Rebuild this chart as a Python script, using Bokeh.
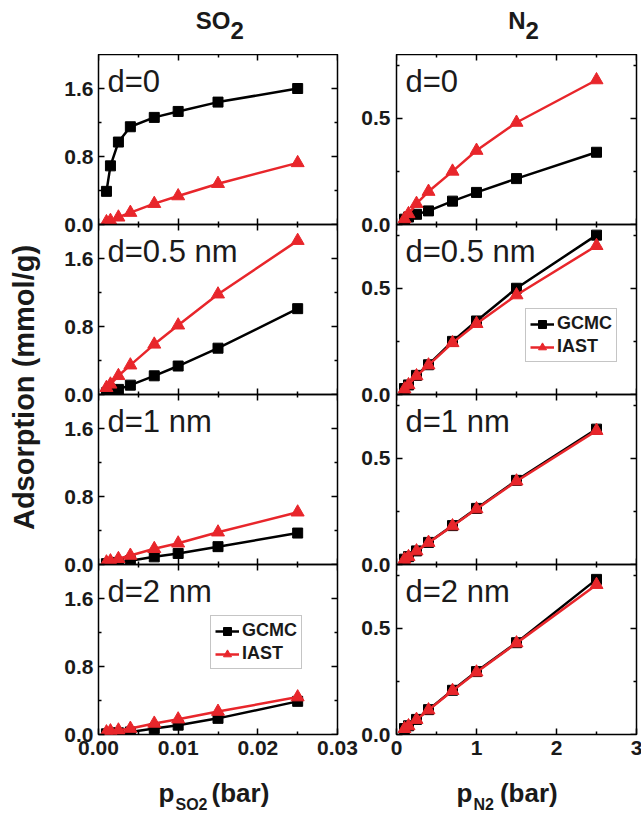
import math
from bokeh.plotting import figure
from bokeh.models import Range1d, LinearAxis, FixedTicker, Label, Legend, LegendItem
from bokeh.layouts import row, column
from bokeh.embed import file_html
from bokeh.resources import INLINE

# ---------------- data ----------------
p_so2 = [0.001, 0.0015, 0.0025, 0.004, 0.007, 0.01, 0.015, 0.025]
p_n2 = [0.1, 0.15, 0.25, 0.4, 0.7, 1.0, 1.5, 2.5]

panel_labels = ["d=0", "d=0.5 nm", "d=1 nm", "d=2 nm"]

so2_gcmc = [
    [0.39, 0.69, 0.97, 1.15, 1.26, 1.33, 1.44, 1.60],
    [0.02, 0.04, 0.06, 0.11, 0.22, 0.335, 0.545, 1.01],
    [0.01, 0.015, 0.025, 0.045, 0.09, 0.13, 0.21, 0.37],
    [0.008, 0.016, 0.02, 0.03, 0.07, 0.11, 0.19, 0.39],
]
so2_iast = [
    [0.03, 0.045, 0.085, 0.14, 0.245, 0.335, 0.48, 0.725],
    [0.08, 0.12, 0.22, 0.345, 0.59, 0.815, 1.18, 1.81],
    [0.027, 0.04, 0.067, 0.106, 0.185, 0.25, 0.38, 0.615],
    [0.028, 0.04, 0.05, 0.07, 0.13, 0.18, 0.27, 0.44],
]
n2_gcmc = [
    [0.025, 0.035, 0.048, 0.064, 0.11, 0.151, 0.216, 0.34],
    [0.028, 0.045, 0.09, 0.14, 0.25, 0.346, 0.50, 0.75],
    [0.025, 0.037, 0.064, 0.104, 0.183, 0.264, 0.396, 0.637],
    [0.028, 0.041, 0.071, 0.117, 0.208, 0.296, 0.432, 0.73],
]
n2_iast = [
    [0.026, 0.05, 0.098, 0.155, 0.25, 0.348, 0.48, 0.68],
    [0.025, 0.045, 0.087, 0.138, 0.243, 0.333, 0.468, 0.70],
    [0.024, 0.036, 0.063, 0.103, 0.181, 0.261, 0.392, 0.630],
    [0.027, 0.04, 0.07, 0.115, 0.206, 0.293, 0.43, 0.705],
]

so2_xticks = [0.0, 0.01, 0.02, 0.03]
so2_xtick_labels = ["0.00", "0.01", "0.02", "0.03"]
so2_xminor = [0.005, 0.015, 0.025]
so2_yticks = [0.0, 0.8, 1.6]
so2_ytick_labels = ["0.0", "0.8", "1.6"]
so2_yminor = [0.4, 1.2]

n2_xticks = [0.0, 1.0, 2.0, 3.0]
n2_xtick_labels = ["0", "1", "2", "3"]
n2_xminor = [0.5, 1.5, 2.5]
n2_yticks = [0.0, 0.5]
n2_ytick_labels = ["0.0", "0.5"]
n2_yminor = [0.25, 0.75]

series_names = ["GCMC", "IAST"]
y_title = "Adsorption (mmol/g)"

# ---------------- style ----------------
FONT = "Liberation Sans"
TXT = "#1a1a1a"
RED = "#e8262b"
BLACK = "#000000"
FH = 170          # frame height of each panel
TOP_H = 54        # title strip height
TICK_B = 32       # room for bottom tick labels
BOT_H = 46        # x-title strip height
YLAB_W = 58
OV = 12           # overlap so tick labels on panel boundaries are not cut

# Arial/Liberation Sans Bold advance widths (per 1000 em)
BW = {"S": 667, "O": 778, "N": 722, "2": 556, "p": 611}


def bw(s, size):
    return sum(BW[ch] for ch in s) * size / 1000.0


cols = [
    dict(px=p_so2, g=so2_gcmc, i=so2_iast, xr=(0, 0.03), yr=(0, 2.0),
         xt=so2_xticks, xtl=so2_xtick_labels, xm=so2_xminor,
         yt=so2_yticks, ytl=so2_ytick_labels, ym=so2_yminor,
         fw=239, mbl=40, mbr=21, title=("SO", "2"), tx=132,
         xlab=("p", "SO2", "(bar)"), xlx=76, gap=4),
    dict(px=p_n2, g=n2_gcmc, i=n2_iast, xr=(0, 3.0), yr=(0, 0.8),
         xt=n2_xticks, xtl=n2_xtick_labels, xm=n2_xminor,
         yt=n2_yticks, ytl=n2_ytick_labels, ym=n2_yminor,
         fw=240, mbl=36, mbr=7, title=("N", "2"), tx=129,
         xlab=("p", "N2", "(bar)"), xlx=76, gap=6),
]

legend_pos = {(0, 3): (112, 65), (1, 1): (129, 32)}


def hide_grids(p):
    for g in p.grid:
        g.visible = False


def strip(width, height):
    s = figure(width=width, height=height, x_axis_location=None, y_axis_location=None,
               toolbar_location=None, output_backend="svg", min_border=0,
               outline_line_color=None, x_range=Range1d(0, 1), y_range=Range1d(0, 1),
               background_fill_color="white", border_fill_color="white")
    hide_grids(s)
    return s


def tlabel(x, y, text, size, align="left", bold=True, **kw):
    # baseline correction: text is drawn lower than requested by ~0.45 em
    px = float(size.replace("px", ""))
    return Label(x=x, y=y + round(0.45 * px), x_units="screen", y_units="screen", text=text,
                 text_font=FONT, text_font_style="bold" if bold else "normal",
                 text_font_size=size, text_color=TXT, text_align=align,
                 text_baseline="alphabetic", **kw)


def labeled_axis(ticks, minor, labels, standoff):
    return LinearAxis(ticker=FixedTicker(ticks=ticks, minor_ticks=minor),
                      axis_line_color=None,
                      major_tick_in=6, major_tick_out=0,
                      minor_tick_in=3, minor_tick_out=0,
                      major_tick_line_width=1.5, minor_tick_line_width=1.5,
                      major_tick_line_color="black", minor_tick_line_color="black",
                      major_label_overrides={t: l for t, l in zip(ticks, labels)},
                      major_label_text_font=FONT, major_label_text_font_style="bold",
                      major_label_text_font_size="21px", major_label_text_color=TXT,
                      major_label_standoff=standoff)


def add_mirror(p, ticks, minor, side, fixed):
    # tick marks only (no labels): major and minor lengths as two label-free axes
    for tk, ln in ((ticks, 6), (minor, 3)):
        ax = LinearAxis(ticker=FixedTicker(ticks=[], minor_ticks=tk),
                        axis_line_color=None, major_tick_line_color=None,
                        minor_tick_in=ln, minor_tick_out=0,
                        minor_tick_line_width=1.5, minor_tick_line_color="black",
                        fixed_location=fixed)
        p.add_layout(ax, side)


columns = []
for c, cd in enumerate(cols):
    cw = cd["mbl"] + cd["fw"] + cd["mbr"]
    top = strip(cw, TOP_H)
    main, sub = cd["title"]
    top.add_layout(tlabel(cd["tx"], 23, main, "24px", align="right"))
    top.add_layout(tlabel(cd["tx"], 13, sub, "24px", align="left"))
    items = [top]
    for r in range(4):
        p = figure(frame_width=cd["fw"], frame_height=FH,
                   x_range=Range1d(*cd["xr"]), y_range=Range1d(*cd["yr"]),
                   x_axis_location=None, y_axis_location=None,
                   toolbar_location=None, output_backend="svg",
                   min_border=0,
                   min_border_left=cd["mbl"], min_border_right=cd["mbr"],
                   min_border_top=0 if r == 0 else OV,
                   min_border_bottom=TICK_B if r == 3 else OV,
                   outline_line_color="black", outline_line_width=1.5,
                   background_fill_color="white", background_fill_alpha=0,
                   border_fill_color="white", border_fill_alpha=0)
        if r > 0:
            p.margin = (-2 * OV, 0, 0, 0)
        hide_grids(p)
        p.add_layout(labeled_axis(cd["yt"], cd["ym"], cd["ytl"], 5 if c == 0 else 6), "left")
        add_mirror(p, cd["yt"], cd["ym"], "right", cd["xr"][1])
        add_mirror(p, cd["xt"], cd["xm"], "above", cd["yr"][1])
        if r == 3:
            p.add_layout(labeled_axis(cd["xt"], cd["xm"], cd["xtl"], 6), "below")
        else:
            add_mirror(p, cd["xt"], cd["xm"], "below", cd["yr"][0])

        lg = p.line(cd["px"], cd["g"][r], line_color=BLACK, line_width=2.5)
        sg = p.scatter(cd["px"], cd["g"][r], marker="square", size=10,
                       fill_color=BLACK, line_color=BLACK)
        li = p.line(cd["px"], cd["i"][r], line_color=RED, line_width=2.5)
        si = p.scatter(cd["px"], cd["i"][r], marker="triangle", size=13,
                       fill_color=RED, line_color=RED)

        p.add_layout(tlabel(9, FH - 41, panel_labels[r], "31px", bold=False))

        if (c, r) in legend_pos:
            leg = Legend(items=[LegendItem(label=series_names[0], renderers=[lg, sg]),
                                LegendItem(label=series_names[1], renderers=[li, si])],
                         location=legend_pos[(c, r)],
                         label_text_font=FONT, label_text_font_style="bold",
                         label_text_font_size="18px", label_text_color=TXT,
                         glyph_width=24, glyph_height=20, label_height=20,
                         label_standoff=3, spacing=2, padding=4, margin=0,
                         border_line_color="#8c8c8c", border_line_width=1,
                         background_fill_color="white", background_fill_alpha=1)
            p.add_layout(leg, "center")
        items.append(p)

    bot = strip(cw, BOT_H)
    m1, s1, m2 = cd["xlab"]
    x0 = cd["xlx"]
    bot.add_layout(tlabel(x0, 8, m1, "26px", align="right"))
    bot.add_layout(tlabel(x0 + 1, 1, s1, "16px", align="left"))
    bot.add_layout(tlabel(x0 + 1 + bw(s1, 16) + cd["gap"], 8, m2, "26px", align="left"))
    items.append(bot)
    columns.append(column(*items))

total_h = TOP_H + 4 * FH + TICK_B + BOT_H
ylab = strip(YLAB_W, total_h)
ylab.add_layout(Label(x=23, y=total_h - 387, x_units="screen", y_units="screen",
                      text=y_title, angle=math.pi / 2, text_font=FONT,
                      text_font_style="bold", text_font_size="29px",
                      text_color=TXT, text_align="center",
                      text_baseline="middle"))

layout = row(ylab, columns[0], columns[1])

open("out.html", "w").write(file_html(layout, INLINE))
